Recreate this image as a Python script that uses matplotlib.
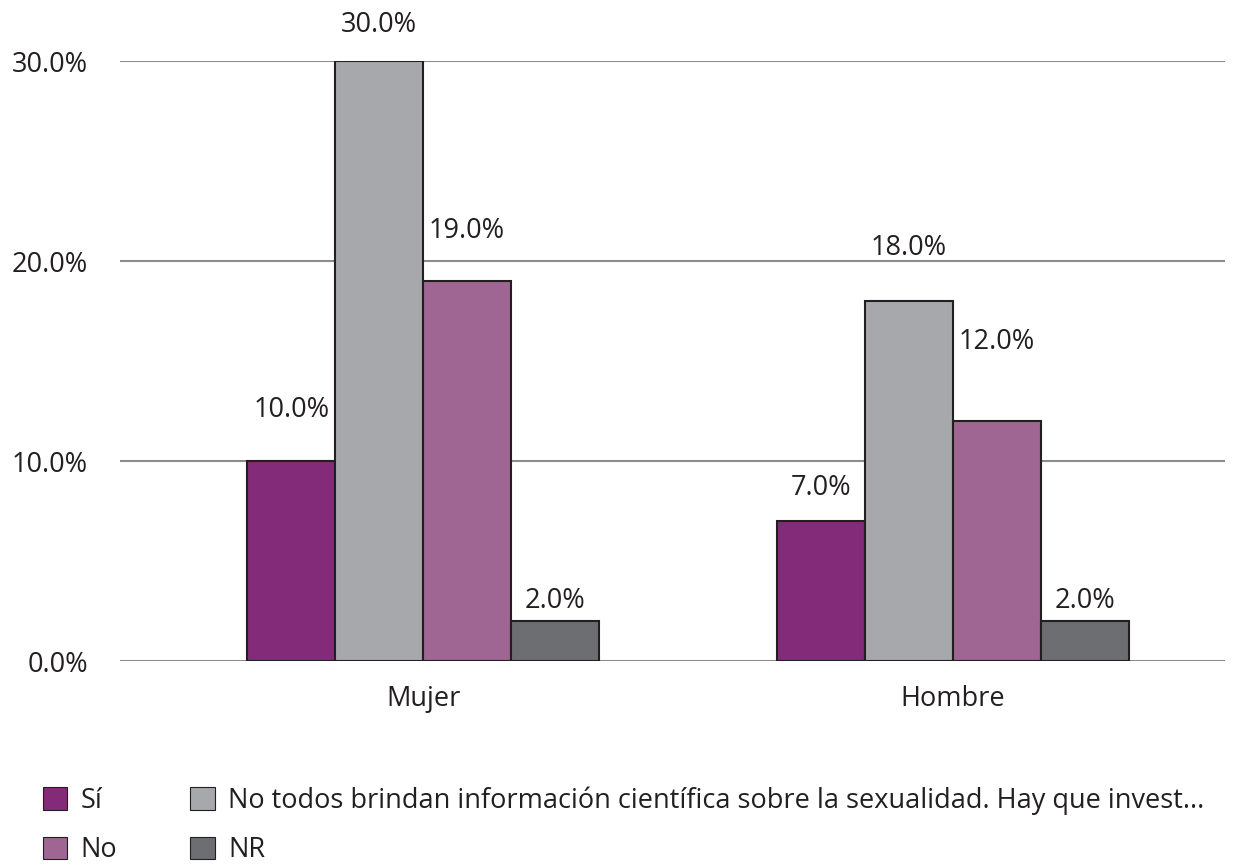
import numpy as np
import matplotlib.pyplot as plt
from matplotlib.patches import Patch

plt.rcParams['font.family'] = ['Open Sans', 'DejaVu Sans']

grupos = ["Mujer", "Hombre"]
series = ["Sí", "No todos brindan información científica sobre la sexualidad. Hay que invest...", "No", "NR"]
valores = [
    [10.0, 7.0],
    [30.0, 18.0],
    [19.0, 12.0],
    [2.0, 2.0],
]
colores = ["#832a78", "#a7a8ab", "#9f6593", "#6d6e71"]
# desplazamiento vertical (px) de cada etiqueta sobre su barra
desplaz = [[51, 33], [36, 53], [50, 79], [20, 20]]

texto = "#231f20"
fs = 19.5
fig = plt.figure(figsize=(12.43, 8.65), dpi=100)
ax = fig.add_axes([120 / 1243, 1 - 661 / 865, 1105 / 1243, 600 / 865])

x = np.arange(len(grupos))
ancho = 0.166
for i, (vals, col) in enumerate(zip(valores, colores)):
    pos = x + (i - 1.5) * ancho
    ax.bar(pos, vals, ancho, color=col, edgecolor=texto, linewidth=1.5, zorder=3)
    for j, v in enumerate(vals):
        ax.annotate(f"{v:.1f}%", (pos[j], v), xytext=(0, desplaz[i][j] * 0.72),
                    textcoords="offset points", ha="center", va="center",
                    fontsize=fs, color=texto, annotation_clip=False)

ax.set_xlim(-0.572, 1.513)
ax.set_ylim(0, 30)
ax.set_yticks([0, 10, 20, 30])
ax.set_yticklabels([f"{t:.1f}%" for t in [0, 10, 20, 30]])
ax.set_xticks(x)
ax.set_xticklabels(grupos)
ax.tick_params(axis="both", length=0, labelsize=fs, colors=texto)
ax.tick_params(axis="y", pad=23)
ax.tick_params(axis="x", pad=17)
ax.yaxis.grid(True, color="#8c8c8c", linewidth=1.5, zorder=0)
for s in ax.spines.values():
    s.set_visible(False)

handles = [Patch(facecolor=c, edgecolor=texto, linewidth=0.8) for c in colores]
orden = [0, 2, 1, 3]
fig.legend([handles[k] for k in orden], [series[k] for k in orden],
           ncol=2, loc="upper left", bbox_to_anchor=(0.019, 0.113),
           bbox_transform=fig.transFigure, frameon=False, fontsize=fs,
           handlelength=0.9, handleheight=0.9, handletextpad=0.5,
           columnspacing=2.7, labelspacing=0.8, borderpad=0.2, labelcolor=texto)

fig.savefig("out.png", dpi=100)
